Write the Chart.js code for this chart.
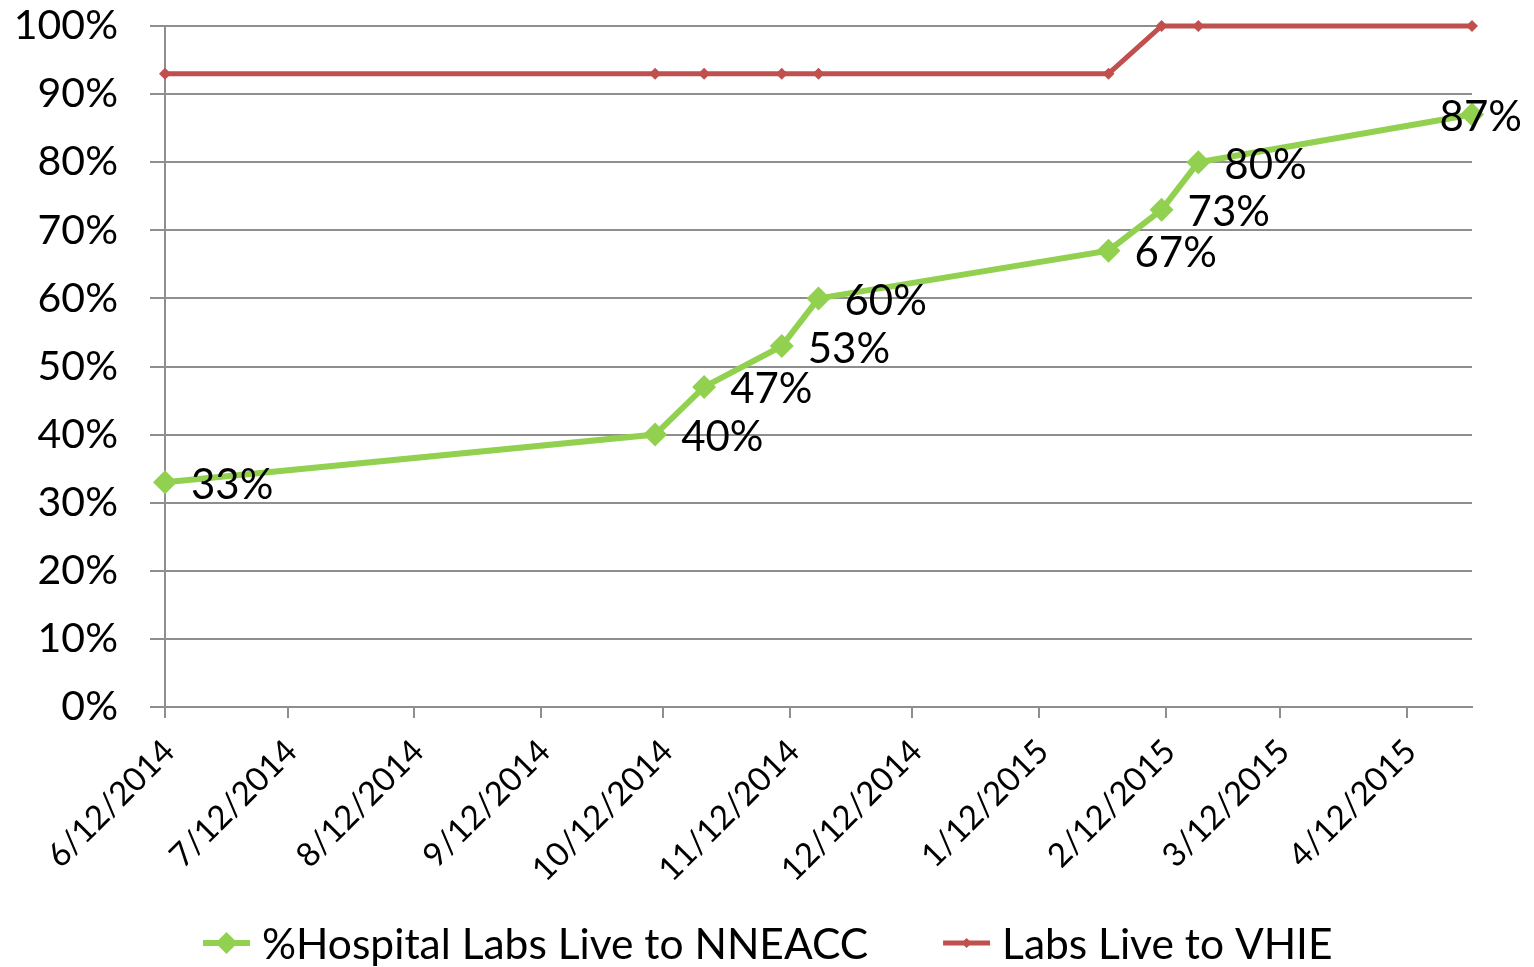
<!DOCTYPE html>
<html lang="en">
<head>
  <meta charset="UTF-8">
  <title>Hospital Labs Live</title>
  <script src="https://cdn.jsdelivr.net/npm/chart.js"></script>
  <style>
    html, body { margin: 0; padding: 0; background: #fff; }
    #wrap { width: 1534px; height: 967px; }
  </style>
</head>
<body>
  <div id="wrap"><canvas id="chart" width="1534" height="967"></canvas></div>

  <script>
    // go-live dates (m/d/yyyy) and the two series, in percent
    const dates = ['6/12/2014', '10/10/2014', '10/22/2014', '11/10/2014', '11/19/2014',
                   '1/29/2015', '2/11/2015', '2/20/2015', '4/28/2015'];
    const nneacc = [33, 40, 47, 53, 60, 67, 73, 80, 87];
    const vhie = [93, 93, 93, 93, 93, 93, 100, 100, 100];
    const tickLabels = ['6/12/2014', '7/12/2014', '8/12/2014', '9/12/2014', '10/12/2014',
                        '11/12/2014', '12/12/2014', '1/12/2015', '2/12/2015', '3/12/2015', '4/12/2015'];
    const seriesNames = ['%Hospital Labs Live to NNEACC', 'Labs Live to VHIE'];
    const colors = ['#92D050', '#C0504D'];

    const FONT = 'Lato, "Open Sans", sans-serif';

    // day number from m/d/yyyy
    function toDay(s) {
      const [m, d, y] = s.split('/').map(Number);
      return Date.UTC(y, m - 1, d) / 86400000;
    }
    const xs = dates.map(toDay);
    const tickDays = tickLabels.map(toDay);

    // data labels for the green series
    const valueLabels = {
      id: 'valueLabels',
      afterDatasetsDraw(chart) {
        const ctx = chart.ctx;
        const meta = chart.getDatasetMeta(0);
        ctx.save();
        ctx.font = '42px ' + FONT;
        ctx.fillStyle = '#000';
        ctx.textAlign = 'left';
        ctx.textBaseline = 'middle';
        meta.data.forEach((pt, i) => {
          const txt = nneacc[i] + '%';
          const w = ctx.measureText(txt).width;
          let x = pt.x + 26;
          if (x + w > chart.width - 12) x = chart.width - 12 - w;
          ctx.fillText(txt, x, pt.y + 3);
        });
        ctx.restore();
      }
    };

    // bottom legend: line with marker, then name
    const bottomLegend = {
      id: 'bottomLegend',
      afterDraw(chart) {
        const ctx = chart.ctx;
        ctx.save();
        ctx.font = '42.5px ' + FONT;
        const lineLen = 47, gapText = 12, gapItem = 75;
        const widths = seriesNames.map(n => ctx.measureText(n).width);
        let x = 203;
        const y = 943;
        seriesNames.forEach((name, i) => {
          ctx.strokeStyle = colors[i];
          ctx.fillStyle = colors[i];
          ctx.lineWidth = i === 0 ? 6 : 5;
          ctx.beginPath();
          ctx.moveTo(x, y);
          ctx.lineTo(x + lineLen, y);
          ctx.stroke();
          const r = i === 0 ? 11 : 5;
          const cx = x + lineLen / 2;
          ctx.beginPath();
          ctx.moveTo(cx, y - r); ctx.lineTo(cx + r, y); ctx.lineTo(cx, y + r); ctx.lineTo(cx - r, y);
          ctx.closePath();
          ctx.fill();
          ctx.fillStyle = '#000';
          ctx.textAlign = 'left';
          ctx.textBaseline = 'middle';
          ctx.fillText(name, x + lineLen + gapText, y + 2);
          x += lineLen + gapText + widths[i] + gapItem;
        });
        ctx.restore();
      }
    };

    const ctx = document.getElementById('chart').getContext('2d');
    new Chart(ctx, {
      type: 'line',
      data: {
        datasets: [
          {
            label: seriesNames[0],
            data: xs.map((x, i) => ({ x: x, y: nneacc[i] })),
            borderColor: colors[0],
            backgroundColor: colors[0],
            borderWidth: 6,
            pointStyle: 'rectRot',
            pointRadius: 12,
            pointBorderWidth: 0,
            tension: 0,
            clip: false
          },
          {
            label: seriesNames[1],
            data: xs.map((x, i) => ({ x: x, y: vhie[i] })),
            borderColor: colors[1],
            backgroundColor: colors[1],
            borderWidth: 5,
            pointStyle: 'rectRot',
            pointRadius: 6,
            pointBorderWidth: 0,
            tension: 0,
            clip: false
          }
        ]
      },
      options: {
        responsive: false,
        animation: false,
        layout: { autoPadding: false, padding: { top: 26, right: 62, bottom: 80, left: 0 } },
        plugins: { legend: { display: false }, tooltip: { enabled: false } },
        scales: {
          x: {
            type: 'linear',
            min: xs[0],
            max: xs[xs.length - 1],
            afterBuildTicks(axis) {
              axis.ticks = tickDays.map(v => ({ value: v }));
            },
            afterFit(axis) {
              axis.height = 180;
              axis.paddingLeft = 0; axis.paddingRight = 0;
              axis.paddingTop = 0; axis.paddingBottom = 0;
            },
            ticks: {
              autoSkip: false,
              minRotation: 45,
              maxRotation: 45,
              padding: 14,
              labelOffset: 4,
              color: '#000',
              font: { family: FONT, size: 33 },
              callback: function(value, index) { return tickLabels[index]; }
            },
            grid: { drawOnChartArea: false, drawTicks: true, tickLength: 11, color: '#8e8e8e', lineWidth: 2 },
            border: { display: true, color: '#8e8e8e', width: 2 }
          },
          y: {
            min: 0,
            max: 100,
            afterFit(axis) {
              axis.width = 165;
              axis.paddingTop = 0; axis.paddingBottom = 0;
              axis.paddingLeft = 0; axis.paddingRight = 0;
            },
            ticks: {
              stepSize: 10,
              padding: 32,
              color: '#000',
              font: { family: FONT, size: 41 },
              callback: function(value) { return value + '%'; }
            },
            grid: { color: '#8e8e8e', lineWidth: 2, tickLength: 15 },
            border: { display: true, color: '#8e8e8e', width: 2 }
          }
        }
      },
      plugins: [valueLabels, bottomLegend]
    });
  </script>
</body>
</html>
